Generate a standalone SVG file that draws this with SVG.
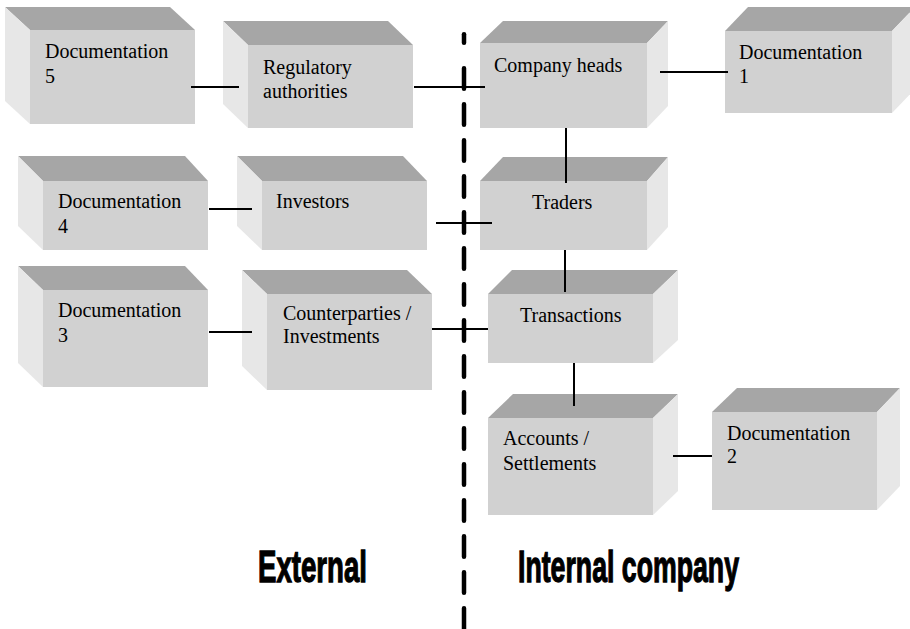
<svg xmlns="http://www.w3.org/2000/svg" width="910" height="629" viewBox="0 0 910 629">
<style>
.front{fill:#d1d1d1}
.top{fill:#a6a6a6}
.side{fill:#e7e7e7}
.lbl{font-family:"Liberation Serif","Times New Roman",serif;font-size:20px;fill:#000}
.big{font-family:"Liberation Sans",Arial,sans-serif;font-weight:bold;font-size:44px;fill:#000;stroke:#000;stroke-width:1.3}
.conn line{stroke:#000;stroke-width:2}
.div{stroke:#000;stroke-width:4.5;stroke-linecap:round;fill:none}
</style>
<rect width="910" height="629" fill="#fff"/>

<!-- External nodes (side on left) -->
<g id="doc5">
<polygon class="top" points="5,7 170,7 195,30 30,30"/>
<polygon class="side" points="5,7 30,30 30,124 5,101"/>
<rect class="front" x="30" y="30" width="165" height="94"/>
<text class="lbl" x="45" y="58">Documentation</text>
<text class="lbl" x="45" y="83">5</text>
</g>
<g id="regulatory">
<polygon class="top" points="223,21 388,21 413,45 248,45"/>
<polygon class="side" points="223,21 248,45 248,128 223,104"/>
<rect class="front" x="248" y="45" width="165" height="83"/>
<text class="lbl" x="263" y="74">Regulatory</text>
<text class="lbl" x="263" y="98">authorities</text>
</g>
<g id="doc4">
<polygon class="top" points="18,156 185,156 208,181 43,181"/>
<polygon class="side" points="18,156 43,181 43,250 18,226"/>
<rect class="front" x="43" y="181" width="165" height="69"/>
<text class="lbl" x="58" y="208">Documentation</text>
<text class="lbl" x="58" y="233">4</text>
</g>
<g id="investors">
<polygon class="top" points="237,156 403,156 427,181 262,181"/>
<polygon class="side" points="237,156 262,181 262,250 237,226"/>
<rect class="front" x="262" y="181" width="165" height="69"/>
<text class="lbl" x="276" y="208">Investors</text>
</g>
<g id="doc3">
<polygon class="top" points="18,266 185,266 208,290 43,290"/>
<polygon class="side" points="18,266 43,290 43,387 18,363"/>
<rect class="front" x="43" y="290" width="165" height="97"/>
<text class="lbl" x="58" y="317">Documentation</text>
<text class="lbl" x="58" y="342">3</text>
</g>
<g id="counterparties">
<polygon class="top" points="242,270 407,270 432,294 267,294"/>
<polygon class="side" points="242,270 267,294 267,390 242,366"/>
<rect class="front" x="267" y="294" width="165" height="96"/>
<text class="lbl" x="283" y="320">Counterparties /</text>
<text class="lbl" x="283" y="343">Investments</text>
</g>

<!-- Internal nodes (side on right) -->
<g id="company-heads">
<polygon class="top" points="480,43 503,21 668,21 647,43"/>
<polygon class="side" points="647,43 668,21 668,106 647,128"/>
<rect class="front" x="480" y="43" width="167" height="85"/>
<text class="lbl" x="494" y="72">Company heads</text>
</g>
<g id="doc1">
<polygon class="top" points="725,31 748,7 915,7 892,31"/>
<polygon class="side" points="892,31 915,7 915,89 892,113"/>
<rect class="front" x="725" y="31" width="167" height="82"/>
<text class="lbl" x="739" y="59">Documentation</text>
<text class="lbl" x="739" y="83">1</text>
</g>
<g id="traders">
<polygon class="top" points="480,181 503,157 668,157 647,181"/>
<polygon class="side" points="647,181 668,157 668,227 647,250"/>
<rect class="front" x="480" y="181" width="167" height="69"/>
<text class="lbl" x="532" y="209">Traders</text>
</g>
<g id="transactions">
<polygon class="top" points="488,294 512,270 678,270 653,294"/>
<polygon class="side" points="653,294 678,270 678,340 653,363"/>
<rect class="front" x="488" y="294" width="165" height="69"/>
<text class="lbl" x="520" y="322">Transactions</text>
</g>
<g id="accounts">
<polygon class="top" points="488,418 513,394 678,394 653,418"/>
<polygon class="side" points="653,418 678,394 678,491 653,515"/>
<rect class="front" x="488" y="418" width="165" height="97"/>
<text class="lbl" x="503" y="445">Accounts /</text>
<text class="lbl" x="503" y="470">Settlements</text>
</g>
<g id="doc2">
<polygon class="top" points="712,412 737,388 900,388 877,412"/>
<polygon class="side" points="877,412 900,388 900,486 877,510"/>
<rect class="front" x="712" y="412" width="165" height="98"/>
<text class="lbl" x="727" y="440">Documentation</text>
<text class="lbl" x="727" y="463">2</text>
</g>

<!-- Divider -->
<g id="divider">
<line class="div" x1="464" y1="34.25" x2="464" y2="42.75"/>
<line class="div" x1="464" y1="68.25" x2="464" y2="640" stroke-dasharray="20.5 15.5"/>
</g>

<!-- Connectors -->
<g id="connectors" class="conn">
<line x1="191" y1="87" x2="239" y2="87"/>
<line x1="414" y1="87" x2="485" y2="87"/>
<line x1="660" y1="72" x2="728" y2="72"/>
<line x1="566" y1="128" x2="566" y2="183"/>
<line x1="209" y1="209" x2="252" y2="209"/>
<line x1="436" y1="223" x2="492" y2="223"/>
<line x1="565" y1="250" x2="565" y2="292"/>
<line x1="209" y1="332" x2="252" y2="332"/>
<line x1="432" y1="329" x2="488" y2="329"/>
<line x1="574" y1="363" x2="574" y2="406"/>
<line x1="673" y1="456" x2="712" y2="456"/>
</g>

<!-- Region labels -->
<g id="labels">
<text class="big" x="258" y="582" textLength="109" lengthAdjust="spacingAndGlyphs">External</text>
<text class="big" x="518" y="582" textLength="221" lengthAdjust="spacingAndGlyphs">Internal company</text>
</g>
</svg>
